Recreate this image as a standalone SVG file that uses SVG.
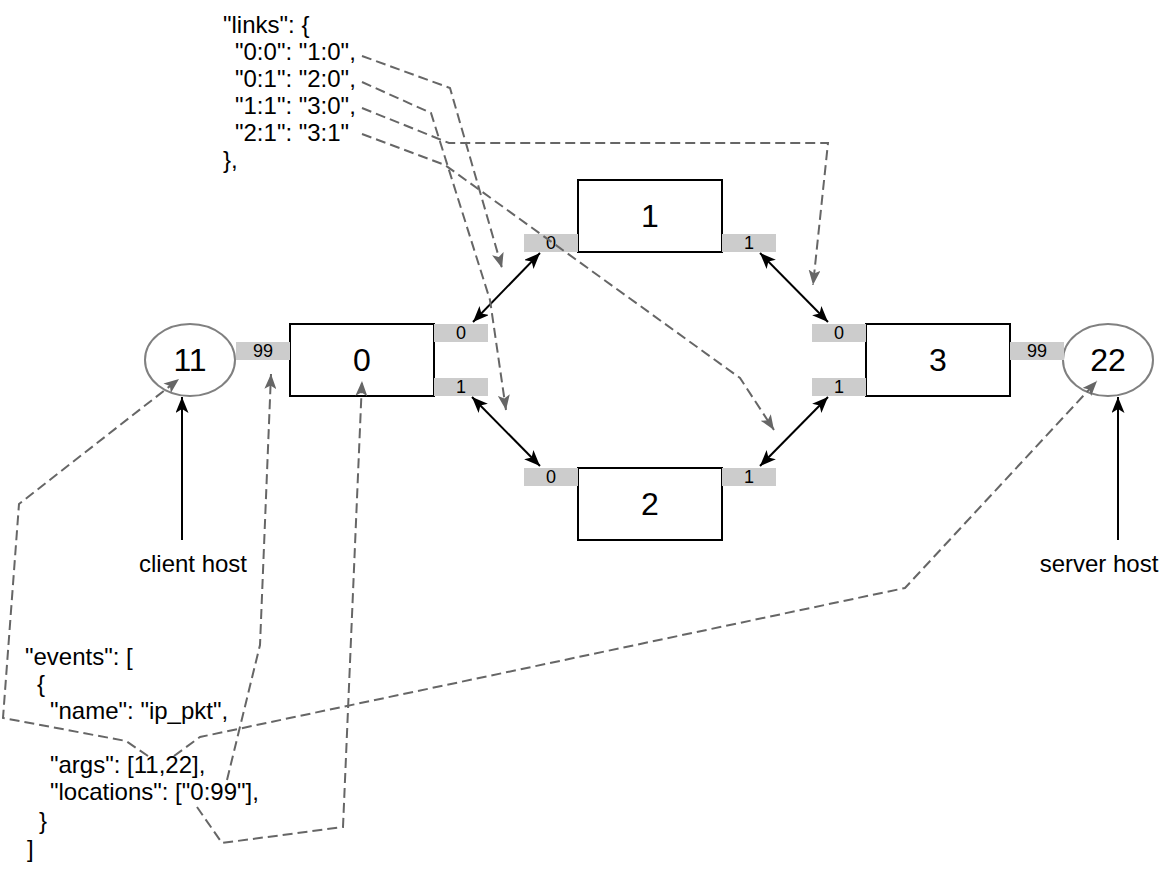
<svg xmlns="http://www.w3.org/2000/svg" width="1168" height="874" viewBox="0 0 1168 874">
  <style>
    text { font-family: "Liberation Sans", Arial, Helvetica, sans-serif; fill: #000; }
    .code { font-size: 24px; }
    .lbl { font-size: 24px; text-anchor: middle; }
    .big { font-size: 32px; text-anchor: middle; }
    .port-t { font-size: 18px; text-anchor: middle; }
    .box { fill: #fff; stroke: #000; stroke-width: 2; }
    .host { fill: #fff; stroke: #808080; stroke-width: 2; }
    .port { fill: #cccccc; stroke: none; }
    .link { fill: none; stroke: #000; stroke-width: 2; marker-start: url(#ah); marker-end: url(#ah); }
    .arr { fill: none; stroke: #000; stroke-width: 2; marker-end: url(#ah); }
    .ref { fill: none; stroke: #666; stroke-width: 2; stroke-dasharray: 10 5; marker-end: url(#ahg); }
  </style>
  <defs>
    <marker id="ah" viewBox="0 0 16 13" refX="16" refY="6.5" markerWidth="16" markerHeight="13" markerUnits="userSpaceOnUse" orient="auto-start-reverse">
      <path d="M0,0 L16,6.5 L0,13 L4,6.5 z" fill="#000"/>
    </marker>
    <marker id="ahg" viewBox="0 0 15 12" refX="15" refY="6" markerWidth="15" markerHeight="12" markerUnits="userSpaceOnUse" orient="auto">
      <path d="M0,0 L15,6 L0,12 L3.5,6 z" fill="#666"/>
    </marker>
  </defs>

  <rect x="0" y="0" width="1168" height="874" fill="#fff"/>

  <!-- link table -->
  <g id="links-text" class="code">
    <text x="223" y="33">"links": {</text>
    <text x="235" y="60">"0:0": "1:0",</text>
    <text x="235" y="87">"0:1": "2:0",</text>
    <text x="235" y="114">"1:1": "3:0",</text>
    <text x="235" y="141">"2:1": "3:1"</text>
    <text x="223" y="168">},</text>
  </g>

  <!-- event list -->
  <g id="events-text" class="code">
    <text x="25" y="665">"events": [</text>
    <text x="37" y="692">{</text>
    <text x="50" y="719">"name": "ip_pkt",</text>
    <text x="50" y="773">"args": [11,22],</text>
    <text x="50" y="800">"locations": ["0:99"],</text>
    <text x="39" y="829">}</text>
    <text x="27" y="857">]</text>
  </g>

  <!-- hosts -->
  <g id="host-11">
    <ellipse class="host" cx="190" cy="360" rx="45" ry="36"/>
    <text class="big" x="190" y="371">11</text>
  </g>
  <g id="host-22">
    <ellipse class="host" cx="1108" cy="360" rx="45" ry="36"/>
    <text class="big" x="1108" y="371">22</text>
  </g>

  <!-- switches with their ports -->
  <g id="node-0">
    <rect class="box" x="290" y="324" width="144" height="72"/>
    <text class="big" x="362" y="371">0</text>
    <rect class="port" x="236" y="342" width="54" height="18"/>
    <text class="port-t" x="263" y="357">99</text>
    <rect class="port" x="434" y="324" width="54" height="18"/>
    <text class="port-t" x="461" y="339">0</text>
    <rect class="port" x="434" y="378" width="54" height="18"/>
    <text class="port-t" x="461" y="393">1</text>
  </g>
  <g id="node-1">
    <rect class="box" x="578" y="180" width="144" height="72"/>
    <text class="big" x="650" y="227">1</text>
    <rect class="port" x="524" y="234" width="54" height="18"/>
    <text class="port-t" x="551" y="249">0</text>
    <rect class="port" x="722" y="234" width="54" height="18"/>
    <text class="port-t" x="749" y="249">1</text>
  </g>
  <g id="node-2">
    <rect class="box" x="578" y="468" width="144" height="72"/>
    <text class="big" x="650" y="515">2</text>
    <rect class="port" x="524" y="468" width="54" height="18"/>
    <text class="port-t" x="551" y="483">0</text>
    <rect class="port" x="722" y="468" width="54" height="18"/>
    <text class="port-t" x="749" y="483">1</text>
  </g>
  <g id="node-3">
    <rect class="box" x="866" y="324" width="144" height="72"/>
    <text class="big" x="938" y="371">3</text>
    <rect class="port" x="812" y="324" width="54" height="18"/>
    <text class="port-t" x="839" y="339">0</text>
    <rect class="port" x="812" y="378" width="54" height="18"/>
    <text class="port-t" x="839" y="393">1</text>
    <rect class="port" x="1010" y="342" width="54" height="18"/>
    <text class="port-t" x="1037" y="357">99</text>
  </g>

  <g id="client-label">
    <text class="lbl" x="193" y="572">client host</text>
  </g>
  <g id="server-label">
    <text class="lbl" x="1099" y="572">server host</text>
  </g>

  <g id="connectors">
    <!-- cables between ports -->
    <line class="link" x1="473" y1="322" x2="540" y2="253"/>
    <line class="link" x1="472" y1="397" x2="540" y2="466"/>
    <line class="link" x1="760" y1="253" x2="828" y2="322"/>
    <line class="link" x1="760" y1="466" x2="828" y2="397"/>
    <!-- host labels -->
    <line class="arr" x1="182" y1="540" x2="182" y2="397"/>
    <line class="arr" x1="1118" y1="540" x2="1118" y2="397"/>
    <!-- link table references -->
    <polyline class="ref" points="362,56 450,88 502,268"/>
    <polyline class="ref" points="362,82 431,113 490,300 506,410"/>
    <polyline class="ref" points="362,108 449,143 828,143 813,285"/>
    <polyline class="ref" points="362,134 445,165 740,378 774,430"/>
    <!-- event references -->
    <polyline class="ref" points="148,756 126,741 3,718 19,504 179,379"/>
    <polyline class="ref" points="174,756 200,737 905,588 1097,381"/>
    <polyline class="ref" points="197,807 222,843 343,827 362,381"/>
    <polyline class="ref" points="227,780 260,645 271,374"/>
  </g>
</svg>
